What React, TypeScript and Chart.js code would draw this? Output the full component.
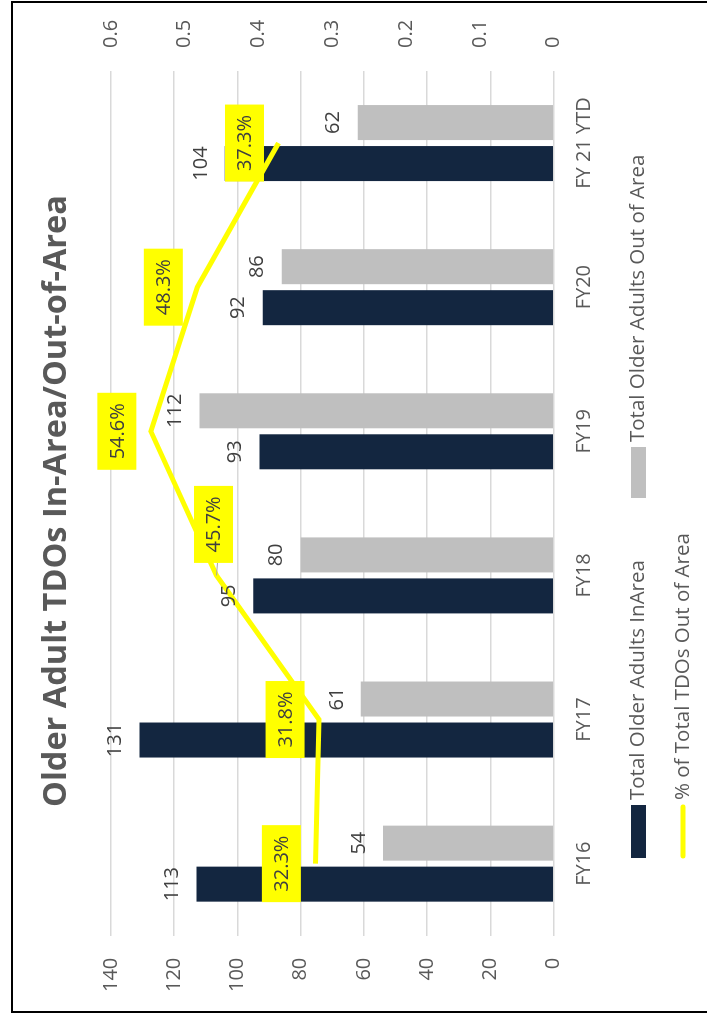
import React, { useEffect, useRef } from "react";
import { Chart, registerables } from "chart.js";

Chart.register(...registerables);

const chartTitle = "Older Adult TDOs In-Area/Out-of-Area";
const categories = ["FY16", "FY17", "FY18", "FY19", "FY20", "FY 21 YTD"];
const inAreaValues = [113, 131, 95, 93, 92, 104];
const outOfAreaValues = [54, 61, 80, 112, 86, 62];
const pctOutOfArea = [0.323, 0.318, 0.457, 0.546, 0.483, 0.373];
const leftTickValues = [0, 20, 40, 60, 80, 100, 120, 140];
const rightTickValues = [0, 0.1, 0.2, 0.3, 0.4, 0.5, 0.6];
const seriesNames = [
  "Total Older Adults InArea",
  "Total Older Adults Out of Area",
  "% of Total TDOs Out of Area",
];

const FONT = "'Open Sans', 'Noto Sans', sans-serif";
const NAVY = "#132640";
const GRAY = "#BFBFBF";
const YELLOW = "#FFFF00";
const AXIS_TEXT = "#595959";
const LABEL_TEXT = "#404040";

const CANVAS_W = 1008;
const CANVAS_H = 696;

const labelsPlugin = {
  id: "customLabels",
  afterDatasetsDraw(chart: any) {
    const ctx = chart.ctx;
    ctx.save();
    ctx.font = `20px ${FONT}`;
    ctx.textAlign = "center";
    ctx.textBaseline = "middle";
    // bar value labels
    [0, 1].forEach((di) => {
      const meta = chart.getDatasetMeta(di);
      meta.data.forEach((el: any, i: number) => {
        const v = chart.data.datasets[di].data[i];
        ctx.fillStyle = LABEL_TEXT;
        ctx.fillText(String(v), el.x, el.y - 24);
      });
    });
    // line labels
    const lmeta = chart.getDatasetMeta(2);
    lmeta.data.forEach((el: any, i: number) => {
      const v = chart.data.datasets[2].data[i] as number;
      const moved = i === 2;
      const cx = moved ? el.x + 51 : el.x;
      const cy = moved ? el.y - 3 : el.y - 34;
      const bw = 77;
      const bh = 39;
      if (moved) {
        ctx.strokeStyle = "#A6A6A6";
        ctx.lineWidth = 1;
        ctx.beginPath();
        ctx.moveTo(el.x, el.y);
        ctx.lineTo(cx - bw / 2, cy + 4);
        ctx.stroke();
      }
      ctx.fillStyle = YELLOW;
      ctx.fillRect(cx - bw / 2, cy - bh / 2, bw, bh);
      ctx.fillStyle = LABEL_TEXT;
      ctx.fillText((v * 100).toFixed(1) + "%", cx, cy + 1);
    });
    ctx.restore();
  },
  afterDraw(chart: any) {
    const ctx = chart.ctx;
    ctx.save();
    // title
    ctx.font = `bold 32.5px ${FONT}`;
    ctx.fillStyle = AXIS_TEXT;
    ctx.textAlign = "center";
    ctx.textBaseline = "middle";
    ctx.fillText(chartTitle, 510, 44);
    // legend
    ctx.font = `20.5px ${FONT}`;
    ctx.textAlign = "left";
    ctx.textBaseline = "middle";
    const row1 = 625.5;
    const row2 = 670;
    ctx.fillStyle = NAVY;
    ctx.fillRect(153, row1 - 7.5, 53, 15);
    ctx.fillStyle = AXIS_TEXT;
    ctx.fillText(seriesNames[0], 211, row1);
    ctx.fillStyle = GRAY;
    ctx.fillRect(513, row1 - 7.5, 51, 15);
    ctx.fillStyle = AXIS_TEXT;
    ctx.fillText(seriesNames[1], 569, row1);
    ctx.strokeStyle = YELLOW;
    ctx.lineWidth = 5;
    ctx.lineCap = "round";
    ctx.beginPath();
    ctx.moveTo(155, row2);
    ctx.lineTo(204, row2);
    ctx.stroke();
    ctx.fillStyle = AXIS_TEXT;
    ctx.fillText(seriesNames[2], 211, row2);
    ctx.restore();
  },
};

export default function App() {
  const ref = useRef<HTMLCanvasElement | null>(null);

  useEffect(() => {
    if (!ref.current) return;
    const chart = new Chart(ref.current, {
      type: "bar",
      data: {
        labels: categories,
        datasets: [
          {
            type: "bar",
            label: seriesNames[0],
            data: inAreaValues,
            backgroundColor: NAVY,
            yAxisID: "y",
            order: 1,
            categoryPercentage: 0.569,
            barPercentage: 0.854,
          },
          {
            type: "bar",
            label: seriesNames[1],
            data: outOfAreaValues,
            backgroundColor: GRAY,
            yAxisID: "y",
            order: 2,
            categoryPercentage: 0.569,
            barPercentage: 0.854,
          },
          {
            type: "line",
            label: seriesNames[2],
            data: pctOutOfArea,
            borderColor: YELLOW,
            backgroundColor: YELLOW,
            borderWidth: 5,
            pointRadius: 0,
            tension: 0,
            yAxisID: "y2",
            order: 0,
          },
        ],
      } as any,
      options: {
        responsive: false,
        animation: false,
        layout: { padding: { left: 5.3, right: 8, top: 98, bottom: 95.3 } },
        plugins: {
          legend: { display: false },
          title: { display: false },
          tooltip: { enabled: false },
        },
        scales: {
          x: {
            type: "category",
            grid: { display: false, drawTicks: false },
            border: { display: false },
            ticks: {
              color: AXIS_TEXT,
              font: { family: FONT, size: 20 },
              padding: 19,
              autoSkip: false,
              maxRotation: 0,
              minRotation: 0,
            },
            afterFit(s: any) {
              s.height = 60;
            },
          },
          y: {
            position: "left",
            min: 0,
            max: 140,
            afterBuildTicks(s: any) {
              s.ticks = leftTickValues.map((v) => ({ value: v }));
            },
            grid: { color: "#D9D9D9", lineWidth: 1.5, drawTicks: false },
            border: { display: false },
            ticks: {
              color: AXIS_TEXT,
              font: { family: FONT, size: 20 },
              padding: 22,
              callback: (v: any) => String(v),
            },
            afterFit(s: any) {
              s.width = 70;
            },
          },
          y2: {
            position: "right",
            min: 0,
            max: 0.6,
            afterBuildTicks(s: any) {
              s.ticks = rightTickValues.map((v) => ({ value: v }));
            },
            grid: { display: false, drawOnChartArea: false, drawTicks: false },
            border: { display: false },
            ticks: {
              color: AXIS_TEXT,
              font: { family: FONT, size: 20 },
              padding: 23,
              callback: (v: any) => (Number(v) === 0 ? "0" : Number(v).toFixed(1)),
            },
            afterFit(s: any) {
              s.width = 60;
            },
          },
        },
      } as any,
      plugins: [labelsPlugin],
    });
    return () => chart.destroy();
  }, []);

  return (
    <div
      style={{
        position: "fixed",
        inset: 0,
        overflow: "hidden",
        background: "#fff",
      }}
    >
      <div
        style={{
          position: "absolute",
          left: 0,
          top: 0,
          width: 1012,
          height: 700,
          boxSizing: "border-box",
          border: "2px solid #000",
          background: "#fff",
          transformOrigin: "0 0",
          transform: "translate(11px, 1013px) rotate(-90deg)",
        }}
      >
        <canvas
          ref={ref}
          width={CANVAS_W}
          height={CANVAS_H}
          style={{ display: "block", width: CANVAS_W, height: CANVAS_H }}
        />
      </div>
    </div>
  );
}
